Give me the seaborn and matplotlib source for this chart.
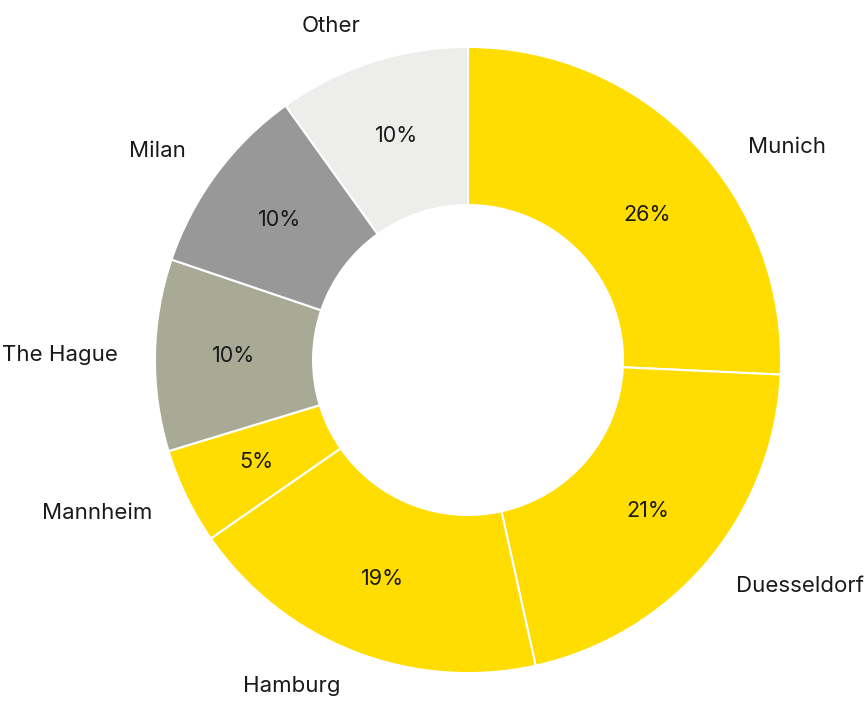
import matplotlib
matplotlib.use("Agg")
import matplotlib.pyplot as plt
import seaborn as sns

# city shares (percent), clockwise from the top
cities = ["Munich", "Duesseldorf", "Hamburg", "Mannheim", "The Hague", "Milan", "Other"]
shares = [26, 21, 19, 5, 10, 10, 10]
colors = ["#FFDD00", "#FFDD00", "#FFDD00", "#FFDD00", "#A8AA96", "#989898", "#EDEDEB"]

sns.set_theme(style="white")
plt.rcParams["font.family"] = ["Inter", "DejaVu Sans"]

fig = plt.figure(figsize=(8.64, 7.15), dpi=100)
ax = fig.add_axes([0, 0, 1, 1])

wedges, texts, pcts = ax.pie(
    shares,
    labels=cities,
    colors=colors,
    startangle=90,
    counterclock=False,
    autopct="%1.0f%%",
    pctdistance=0.75,
    labeldistance=1.12,
    wedgeprops=dict(width=0.505, edgecolor="white", linewidth=1.5),
    textprops=dict(fontsize=16, color="#1a1a1a"),
)

# show the raw values, not the share of the 101 total
for t, v in zip(pcts, shares):
    t.set_text(f"{v}%")
    t.set_fontsize(15.5)

# Munich sits a little lower in the original
texts[0].set_position((0.895, 0.68))
pcts[0].set_position((0.572, 0.463))

ax.set_xlim(-1.495, 1.265)
ax.set_ylim(-1.134, 1.150)
ax.set_aspect("equal", adjustable="datalim")
ax.axis("off")

fig.savefig("out.png", dpi=100, facecolor="white")
